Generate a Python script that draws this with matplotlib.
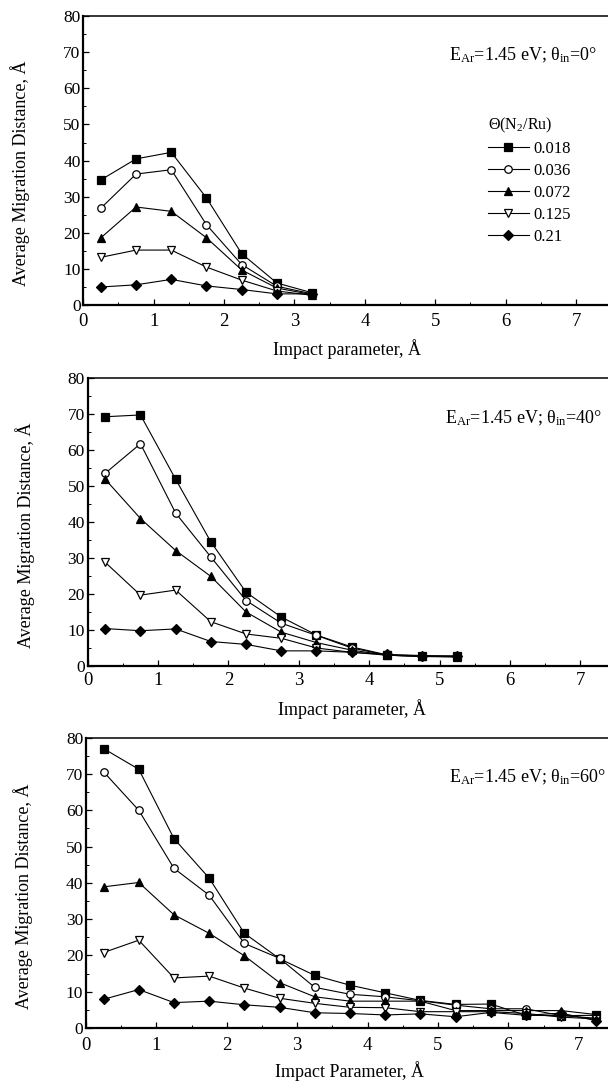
import numpy as np
import matplotlib
matplotlib.use("Agg")
import matplotlib.pyplot as plt
from matplotlib.ticker import MultipleLocator

plt.rcParams['font.family'] = ['Liberation Serif', 'DejaVu Serif']
plt.rcParams['mathtext.fontset'] = 'custom'
plt.rcParams['mathtext.rm'] = 'Liberation Serif'
plt.rcParams['mathtext.it'] = 'Liberation Serif:italic'

# coverages Theta(N2/Ru) and their marker styles
coverages = ["0.018", "0.036", "0.072", "0.125", "0.21"]
markers = ['s', 'o', '^', 'v', 'D']
filled = [True, False, True, False, True]

# impact parameters for each incidence angle
b_0 = [0.25, 0.75, 1.25, 1.75, 2.25, 2.75, 3.25]
b_40 = [0.25, 0.75, 1.25, 1.75, 2.25, 2.75, 3.25, 3.75, 4.25, 4.75, 5.25]
b_60 = [0.25, 0.75, 1.25, 1.75, 2.25, 2.75, 3.25, 3.75, 4.25, 4.75, 5.25,
        5.75, 6.25, 6.75, 7.25]

# average migration distance, theta_in = 0 deg
d0_018 = [34.7, 40.5, 42.3, 29.7, 14.3, 6.2, 3.5]
d0_036 = [26.9, 36.3, 37.5, 22.3, 11.3, 5.3, 3.2]
d0_072 = [18.7, 27.2, 26.0, 18.7, 9.8, 4.8, 3.0]
d0_125 = [13.3, 15.3, 15.3, 10.6, 7.0, 4.0, 2.8]
d0_21 = [5.1, 5.7, 7.2, 5.4, 4.4, 3.2, 3.2]

# theta_in = 40 deg
d40_018 = [69.3, 69.8, 51.9, 34.5, 20.5, 13.6, 8.6, 5.3, 3.1, 2.8, 2.8]
d40_036 = [53.6, 61.8, 42.5, 30.3, 18.2, 11.9, 8.5, 5.0, 3.0, 2.7, 2.5]
d40_072 = [51.9, 41.0, 32.1, 24.9, 15.0, 9.4, 6.5, 4.4, 3.0, 2.7, 2.6]
d40_125 = [28.8, 19.7, 21.1, 12.3, 8.9, 7.7, 5.0, 3.8, 3.0, 2.6, 2.6]
d40_21 = [10.4, 9.8, 10.3, 6.8, 6.0, 4.2, 4.2, 3.8, 3.2, 2.9, 2.7]

# theta_in = 60 deg
d60_018 = [77.0, 71.3, 52.2, 41.3, 26.1, 19.1, 14.5, 11.8, 9.7, 7.6, 6.5,
           6.6, 3.5, 3.4, 3.5]
d60_036 = [70.6, 60.0, 44.0, 36.6, 23.3, 19.2, 11.2, 9.3, 8.6, 7.5, 6.3,
           5.3, 5.3, 3.4, 2.7]
d60_072 = [38.9, 40.1, 31.2, 26.1, 19.9, 12.5, 8.6, 7.4, 7.4, 7.4, 4.8,
           4.8, 4.8, 4.8, 3.7]
d60_125 = [20.8, 24.2, 13.8, 14.3, 11.0, 8.2, 6.8, 5.7, 5.6, 4.5, 4.5,
           4.5, 4.0, 3.0, 2.5]
d60_21 = [7.9, 10.6, 7.0, 7.4, 6.4, 5.7, 4.2, 4.0, 3.6, 3.9, 3.1,
          4.3, 3.5, 4.1, 2.0]

panels = [
    (b_0, [d0_018, d0_036, d0_072, d0_125, d0_21], "0", "Impact parameter, Å"),
    (b_40, [d40_018, d40_036, d40_072, d40_125, d40_21], "40", "Impact parameter, Å"),
    (b_60, [d60_018, d60_036, d60_072, d60_125, d60_21], "60", "Impact Parameter, Å"),
]

# axes rectangles (left, bottom, width, height), right spine runs off the page
rects = [
    [0.137, 0.7177, 0.8684, 0.2676],
    [0.1442, 0.3845, 0.8684, 0.2659],
    [0.1414, 0.0499, 0.8684, 0.2683],
]
text_x = [5.2, 5.08, 5.15]
xpads = [5.5, 4.5, 6.5]

fig = plt.figure(figsize=(6.08, 10.82), dpi=100)

for i, (b, series, angle, xlab) in enumerate(panels):
    ax = fig.add_axes(rects[i])
    for d, lab, m, f in zip(series, coverages, markers, filled):
        ms = 6.4 if m in ('^', 'v') else (4.9 if m == 'D' else 5.4)
        ax.plot(b, d, color='black', lw=0.8, marker=m, ms=ms,
                mfc='black' if f else 'white', mec='black', mew=0.9,
                label=lab)

    ax.set_xlim(0, 7.5)
    ax.set_ylim(0, 80)
    ax.xaxis.set_major_locator(MultipleLocator(1))
    ax.xaxis.set_minor_locator(MultipleLocator(0.5))
    ax.yaxis.set_major_locator(MultipleLocator(10))
    ax.yaxis.set_minor_locator(MultipleLocator(5))
    ax.tick_params(which='both', direction='in', top=False, right=False)
    ax.tick_params(which='major', length=4, width=0.9)
    ax.tick_params(which='minor', length=2, width=0.7)
    ax.tick_params(axis='x', labelsize=13.5, pad=xpads[i])
    ax.tick_params(axis='y', labelsize=12.5, pad=2)
    for s in ('left', 'bottom'):
        ax.spines[s].set_linewidth(1.6)
    ax.spines['top'].set_linewidth(1.1)

    ax.set_xlabel(xlab, fontsize=13)
    ax.xaxis.set_label_coords(0.5, -0.115)
    ax.set_ylabel("Average Migration Distance, Å", fontsize=13)
    ax.yaxis.set_label_coords(-0.1, 0.455)

    ax.text(text_x[i], 69,
            r"E$_{\mathrm{Ar}}$=1.45 eV; θ$_{\mathrm{in}}$=" + angle + "°",
            fontsize=13, ha='left', va='center')

    if i == 0:
        leg = ax.legend(title=r"Θ(N$_2$/Ru)", loc='upper left',
                        bbox_to_anchor=(0.75, 0.685), frameon=False,
                        fontsize=12, title_fontsize=11.5, borderpad=0,
                        handlelength=2.5, handletextpad=0.25,
                        labelspacing=0.36, alignment='left')

fig.savefig("out.png", dpi=100)
